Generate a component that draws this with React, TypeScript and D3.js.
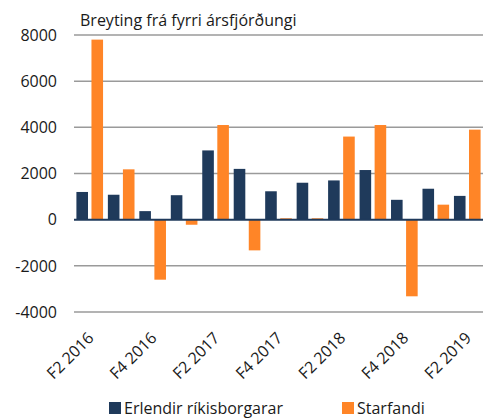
import React, { useEffect, useRef } from 'react';
import * as d3 from 'd3';

const quarters = [
    'F2 2016', 'F3 2016', 'F4 2016', 'F1 2017', 'F2 2017', 'F3 2017', 'F4 2017',
    'F1 2018', 'F2 2018', 'F3 2018', 'F4 2018', 'F1 2019', 'F2 2019'
];
const erlendir = [1200, 1080, 370, 1060, 3000, 2200, 1230, 1600, 1700, 2150, 860, 1340, 1030];
const starfandi = [7800, 2180, -2600, -220, 4100, -1330, 60, 60, 3600, 4100, -3320, 650, 3900];
const yTicks = [-4000, -2000, 0, 2000, 4000, 6000, 8000];
const seriesNames = ['Erlendir ríkisborgarar', 'Starfandi'];
const colors = ['#1f3a5b', '#ff8527'];

const FONT = '"Open Sans", sans-serif';

const App: React.FC = () => {
    const ref = useRef<HTMLDivElement>(null);

    useEffect(() => {
        if (!ref.current) return;
        const width = 485, height = 419;
        const margin = { top: 35, right: 2, bottom: 107, left: 74 };

        const svg = d3.select(ref.current)
            .append('svg')
            .attr('width', width)
            .attr('height', height)
            .style('font-family', FONT);

        const y = d3.scaleLinear()
            .domain([-4000, 8000])
            .range([height - margin.bottom, margin.top]);

        const x0 = d3.scaleBand()
            .domain(quarters)
            .range([margin.left, width - margin.right])
            .padding(0);

        const x1 = d3.scaleBand()
            .domain(['0', '1'])
            .range([0, x0.bandwidth()])
            .paddingInner(0.23)
            .paddingOuter(0.16);

        // grid lines
        svg.append('g')
            .selectAll('line')
            .data(yTicks.filter(d => d !== 0))
            .enter()
            .append('line')
            .attr('x1', margin.left)
            .attr('x2', width - margin.right)
            .attr('y1', d => y(d))
            .attr('y2', d => y(d))
            .attr('stroke', '#9a9a9a')
            .attr('stroke-width', 1.5);

        // y labels
        svg.append('g')
            .selectAll('text')
            .data(yTicks)
            .enter()
            .append('text')
            .attr('x', 57)
            .attr('y', d => y(d))
            .attr('dy', '0.36em')
            .attr('text-anchor', 'end')
            .style('font-size', '16px')
            .style('fill', '#1a1a1a')
            .text(d => d);

        const data = quarters.map((q, i) => ({ q, vals: [erlendir[i], starfandi[i]] }));

        svg.append('g')
            .selectAll('g')
            .data(data)
            .enter()
            .append('g')
            .attr('transform', d => `translate(${x0(d.q)},0)`)
            .selectAll('rect')
            .data(d => d.vals.map((v, k) => ({ v, k })))
            .enter()
            .append('rect')
            .attr('x', d => x1(String(d.k)) as number)
            .attr('width', x1.bandwidth())
            .attr('y', d => y(Math.max(0, d.v)))
            .attr('height', d => Math.abs(y(d.v) - y(0)))
            .style('fill', d => colors[d.k]);

        // zero line
        svg.append('line')
            .attr('x1', margin.left)
            .attr('x2', width - margin.right)
            .attr('y1', y(0))
            .attr('y2', y(0))
            .attr('stroke', '#1f3a5b')
            .attr('stroke-width', 2);

        // x labels, every other quarter
        svg.append('g')
            .selectAll('text')
            .data(quarters.filter((_, i) => i % 2 === 0))
            .enter()
            .append('text')
            .attr('text-anchor', 'end')
            .attr('transform', d => `translate(${(x0(d) as number) + x0.bandwidth() / 2 + 5},${339}) rotate(-45)`)
            .style('font-size', '16px')
            .style('fill', '#1a1a1a')
            .text(d => d);

        // title
        svg.append('text')
            .attr('x', 80)
            .attr('y', 26)
            .style('font-size', '16px')
            .style('fill', '#1a1a1a')
            .text('Breyting frá fyrri ársfjórðungi');

        // legend
        const legendX = [109, 342];
        const legend = svg.append('g')
            .selectAll('g')
            .data(seriesNames)
            .enter()
            .append('g')
            .attr('transform', (_, i) => `translate(${legendX[i]},402)`);
        legend.append('rect')
            .attr('width', 12)
            .attr('height', 12)
            .style('fill', (_, i) => colors[i]);
        legend.append('text')
            .attr('x', 15)
            .attr('y', 12)
            .style('font-size', '16px')
            .style('fill', '#1a1a1a')
            .text(d => d);

        return () => {
            svg.remove();
        };
    }, []);

    return (
        <div ref={ref} style={{ position: 'absolute', left: 0, top: 0 }}></div>
    );
};

export default App;
